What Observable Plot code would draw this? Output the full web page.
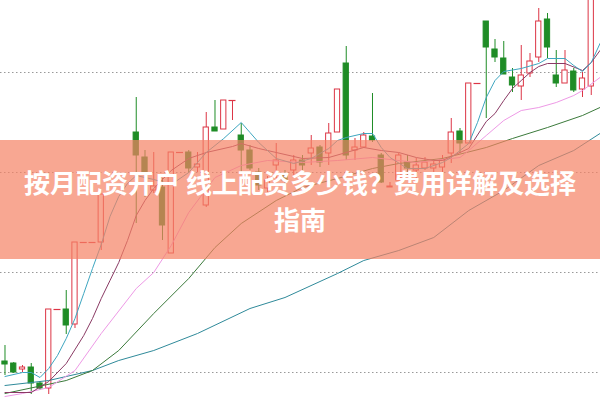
<!DOCTYPE html>
<html>
<head>
<meta charset="utf-8">
<script src="https://cdn.jsdelivr.net/npm/d3@7"></script>
<script src="https://cdn.jsdelivr.net/npm/@observablehq/plot@0.6"></script>
<style>
  html, body { margin: 0; padding: 0; background: #fff; }
  #wrap { position: relative; width: 600px; height: 400px; overflow: hidden; }
  #band {
    position: absolute; left: 0; top: 140px; width: 600px; height: 119px;
    background: rgba(245, 130, 100, 0.7);
    color: #fff; font-family: "Noto Sans CJK SC", "Noto Sans", sans-serif;
    font-weight: bold; font-size: 26px; line-height: 37px; text-align: center;
    padding-top: 23px; box-sizing: border-box; white-space: nowrap;
  }
</style>
</head>
<body>
<div id="wrap">
  <div id="chart"></div>
  <div id="band">按月配资开户 线上配资多少钱？费用详解及选择<br>指南</div>
</div>
<script>
// Daily candles (index = trading day), null = not visible
const open  = [11.1,10.9,10.3,10.5,8.9,8.4,16.3,16.3,14.8,23.0,23.0,23.0,null,null,null,34.0,31.5,28.2,28.5,21.9,32.0,32.0,30.5,26.7,34.5,34.3,37.2,33.7,32.2,30.0,28.4,30.7,29.7,30.2,31.2,31.9,32.5,31.9,34.0,40.9,32.2,32.5,33.6,31.7,28.5,29.2,31.0,30.2,30.4,30.4,30.5,31.9,34.1,32.9,38.9,45.1,42.3,41.4,39.5,38.6,39.9,41.5,45.3,39.7,38.9,40.1,38.3,38.6];
const close = [10.8,10.0,10.5,8.9,8.4,16.3,16.3,14.7,23.0,23.0,23.0,27.8,null,null,null,31.7,30.0,28.6,24.7,32.0,32.0,30.4,30.8,34.5,34.1,37.2,37.2,32.2,30.4,28.7,29.2,31.2,29.2,31.2,30.7,32.4,31.0,33.9,38.3,31.7,32.5,33.7,33.2,29.0,28.6,31.7,30.4,30.7,31.0,30.8,31.2,34.0,32.9,38.9,38.9,42.5,41.5,39.8,38.7,39.7,41.1,45.1,42.5,38.9,40.2,38.2,39.4,48.2];
const high  = [12.7,11.0,10.7,10.9,9.1,16.3,16.3,18.2,23.0,23.0,23.0,27.8,null,null,null,37.5,32.2,32.0,29.4,32.0,32.0,32.2,32.0,36.0,37.2,37.2,37.2,34.9,32.7,30.4,29.6,32.9,30.2,31.7,31.7,33.7,32.7,34.9,38.3,42.6,33.4,34.0,37.9,31.9,29.0,31.9,31.7,31.4,31.5,31.2,31.7,35.4,34.4,38.9,38.9,45.1,43.3,43.1,40.4,42.7,41.9,46.4,45.9,42.2,42.2,40.4,40.0,49.0];
const low   = [9.7,9.9,10.0,7.8,8.2,7.8,16.3,13.8,14.4,23.0,23.0,22.2,null,null,null,24.9,27.5,27.9,23.2,21.9,32.0,30.0,30.0,26.5,34.1,34.3,35.2,30.0,30.2,28.2,28.0,29.4,28.7,29.7,30.2,30.7,30.5,30.7,34.0,31.2,31.2,32.4,33.0,28.9,28.5,29.2,29.7,28.9,30.2,30.0,30.0,30.9,31.9,32.9,38.9,35.4,41.0,39.8,38.0,37.2,39.5,41.0,41.4,38.5,38.9,38.0,37.5,37.7];

// Moving averages: day index and value
const ma5Day  = [0,2,3,4,5,6,7,8,9,10,11,12,13,14,15,17,19,21,23,25,27,28,29,31,33,35,37,38,39,41,42,43,44,46,48,50,51,52,53,54,55,56,57,59,61,62,64,65,66,67,68];
const ma5     = [9.6,10.0,10.0,9.5,10.4,11.7,13.4,15.4,17.9,20.4,22.8,25.6,27.6,28.9,29.7,29.3,28.8,30.0,32.0,33.4,35.0,34.0,33.0,31.4,30.9,31.4,32.4,33.2,33.5,33.9,33.9,32.5,31.5,30.4,30.4,31.0,31.5,32.2,32.9,35.0,37.5,39.2,40.1,40.4,40.9,41.4,41.4,40.7,40.1,41.0,42.9];
const ma10Day = [0,3,5,7,9,10,11,12,13,14,15,16,17,19,21,23,26,27,29,31,34,37,41,43,45,47,49,50,53,55,56,57,58,59,60,61,62,64,66,67,68];
const ma10    = [8.0,8.0,9.1,10.9,13.7,15.4,17.4,19.2,21.0,23.2,25.7,27.2,28.4,30.2,31.4,32.0,32.6,32.9,32.4,32.0,31.4,31.5,32.5,32.2,32.0,31.5,31.2,31.2,32.4,35.1,35.9,37.2,38.4,39.2,40.0,40.6,40.9,40.9,40.2,41.0,42.2];
const ma20Day = [0,2,5,8,11,15,17,19,21,24,27,30,34,38,42,47,52,53,55,57,59,61,63,65,66,68];
const ma20    = [7.6,7.9,8.5,10.2,13.9,18.4,20.0,22.7,26.0,29.5,30.7,31.2,31.0,31.2,31.5,31.0,31.5,32.2,33.7,35.2,36.2,36.5,37.0,37.7,38.2,39.5];
const ma30Day = [0,7,10,13,17,21,24,27,31,34,38,42,45,50,55,58,62,66,68];
const ma30    = [7.9,9.2,10.2,12.2,15.9,19.4,22.5,24.9,27.2,28.5,29.4,30.4,30.9,31.4,32.5,33.4,34.5,35.7,36.5];
const ma60Day = [0,5,10,13,17,22,28,32,38,41,45,49,53,57,61,65,68];
const ma60    = [8.7,9.2,10.2,11.2,12.2,13.9,16.4,17.5,19.9,21.2,22.2,23.5,26.2,28.2,30.7,32.2,33.9];

const gridLevels = [10, 20, 30, 40];

const RED = "#dc3545", GREEN = "#1f8c26";
const candles = open.map((o, i) => ({i, open: o, close: close[i], high: high[i], low: low[i]}))
  .filter(d => d.open != null)
  .map(d => ({...d, col: d.close >= d.open ? RED : GREEN, up: d.close >= d.open}));
const flats = candles.filter(d => d.open === d.close);
const mk = (days, vals) => days.map((t, k) => ({t, v: vals[k]}));

const chart = Plot.plot({
  width: 600, height: 400,
  marginTop: 0, marginRight: 0, marginBottom: 0, marginLeft: 0,
  x: {domain: [-0.514, 68.057], axis: null},
  y: {domain: [7.2, 47.2], axis: null},
  color: {type: "identity"},
  style: {background: "#fff"},
  marks: [
    Plot.ruleY(gridLevels, {stroke: "#999", strokeDasharray: "1.5,2.5", strokeWidth: 1}),
    Plot.ruleX(candles, {x: "i", y1: "low", y2: "high", stroke: "col", strokeWidth: 1}),
    Plot.rect(candles, {
      x1: d => d.i - 0.3, x2: d => d.i + 0.3, y1: "open", y2: "close",
      fill: d => d.up ? "#fff" : GREEN, stroke: "col", strokeWidth: 1
    }),
    Plot.ruleY(flats, {y: "close", x1: d => d.i - 0.4, x2: d => d.i + 0.4, stroke: "col", strokeWidth: 1.2}),
    Plot.line(mk(ma60Day, ma60), {x: "t", y: "v", stroke: "#2f8a9a", strokeWidth: 1}),
    Plot.line(mk(ma30Day, ma30), {x: "t", y: "v", stroke: "#3b7a3b", strokeWidth: 1}),
    Plot.line(mk(ma20Day, ma20), {x: "t", y: "v", stroke: "#ee99e6", strokeWidth: 1}),
    Plot.line(mk(ma10Day, ma10), {x: "t", y: "v", stroke: "#8a3a64", strokeWidth: 1}),
    Plot.line(mk(ma5Day, ma5), {x: "t", y: "v", stroke: "#3ea6c0", strokeWidth: 1})
  ]
});
document.getElementById("chart").appendChild(chart);
</script>
</body>
</html>
